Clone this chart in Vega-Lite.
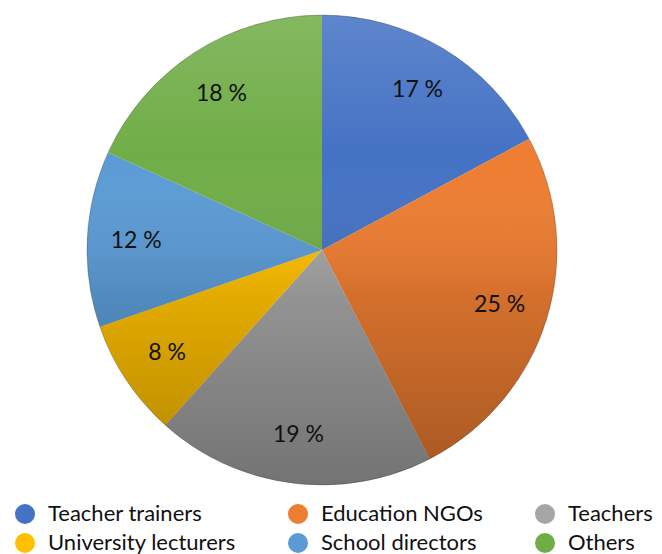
{
  "$schema": "https://vega.github.io/schema/vega-lite/v6.json",
  "width": 470,
  "height": 470,
  "autosize": {"type": "none"},
  "padding": {"left": 87, "top": 15, "right": 105, "bottom": 69},
  "background": "white",
  "config": {"view": {"stroke": null}, "font": "Lato"},
  "data": {
    "values": [
      {"group": "Teacher trainers", "value": 17, "label": "17 %", "order": 1},
      {"group": "Education NGOs", "value": 25, "label": "25 %", "order": 2},
      {"group": "Teachers", "value": 19, "label": "19 %", "order": 3},
      {"group": "University lecturers", "value": 8, "label": "8 %", "order": 4},
      {"group": "School directors", "value": 12, "label": "12 %", "order": 5},
      {"group": "Others", "value": 18, "label": "18 %", "order": 6}
    ]
  },
  "layer": [
    {
      "mark": {"type": "arc", "outerRadius": 235},
      "encoding": {
        "theta": {"field": "value", "type": "quantitative", "stack": true},
        "order": {"field": "order", "type": "quantitative"},
        "color": {
          "field": "group",
          "type": "nominal",
          "scale": {
            "domain": ["Teacher trainers", "Education NGOs", "Teachers", "University lecturers", "School directors", "Others"],
            "range": ["#4472C4", "#ED7D31", "#A5A5A5", "#FFC000", "#5B9BD5", "#70AD47"]
          },
          "legend": {
            "orient": "none",
            "legendX": -73,
            "legendY": 488,
            "direction": "horizontal",
            "columns": 3,
            "title": null,
            "symbolType": "circle",
            "symbolSize": 400,
            "symbolStrokeWidth": 0,
            "symbolOpacity": 1,
            "labelFontSize": 22,
            "labelFont": "Lato",
            "labelColor": "#111111",
            "labelOffset": 12,
            "columnPadding": 51,
            "rowPadding": 7,
            "labelLimit": 400,
            "padding": 0
          }
        }
      }
    },
    {
      "data": {"values": [{"k": 1}]},
      "mark": {
        "type": "arc",
        "outerRadius": 235,
        "theta": 0,
        "theta2": 6.2832,
        "stroke": "rgba(0,0,0,0.22)",
        "strokeWidth": 1,
        "color": {
          "gradient": "linear",
          "x1": 0, "y1": 0, "x2": 0, "y2": 1,
          "stops": [
            {"offset": 0, "color": "rgba(255,255,255,0.14)"},
            {"offset": 0.3, "color": "rgba(255,255,255,0)"},
            {"offset": 0.6, "color": "rgba(0,0,0,0.11)"},
            {"offset": 1, "color": "rgba(0,0,0,0.3)"}
          ]
        }
      },
      "encoding": {}
    },
    {
      "mark": {"type": "text", "radius": 186, "fontSize": 23, "font": "Lato", "color": "#111111"},
      "encoding": {
        "theta": {"field": "value", "type": "quantitative", "stack": true},
        "order": {"field": "order", "type": "quantitative"},
        "text": {"field": "label"}
      }
    }
  ]
}
